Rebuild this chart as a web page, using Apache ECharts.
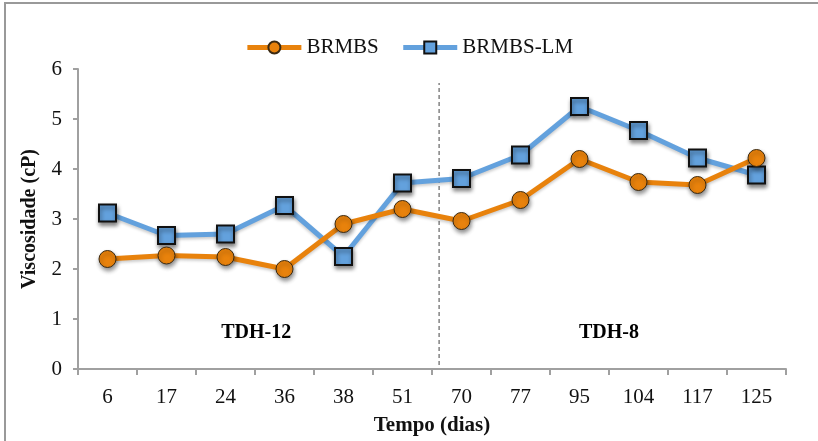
<!DOCTYPE html>
<html>
<head>
<meta charset="utf-8">
<script src="https://cdn.jsdelivr.net/npm/echarts@6/dist/echarts.min.js"></script>
<style>
html,body{margin:0;padding:0;background:#fff;overflow:hidden;}
#chart{width:818px;height:441px;}
</style>
</head>
<body>
<div id="chart"></div>
<script>
const categories = ['6','17','24','36','38','51','70','77','95','104','117','125'];
const brmbs   = [2.20, 2.27, 2.24, 2.00, 2.90, 3.20, 2.96, 3.38, 4.20, 3.74, 3.68, 4.22];
const brmbsLM = [3.12, 2.67, 2.70, 3.27, 2.25, 3.72, 3.81, 4.28, 5.25, 4.77, 4.22, 3.88];
const yTicks = [0, 6, 1];           // min, max, interval
const separatorX = 6.12;             // between "51" and "70" (category units)
const separatorY = [0.08, 5.72];
const regionLabels = [
  {name: 'TDH-12', value: [3.02, 0.73]},
  {name: 'TDH-8',  value: [9.0, 0.73]}
];

const serif = "'Liberation Serif','Times New Roman',serif";
const axisGray = '#A0A0A0';
const orange = '#E8820C';
const blue = '#63A1DD';

const chart = echarts.init(document.getElementById('chart'));
chart.setOption({
  animation: false,
  backgroundColor: '#fff',
  graphic: [{
    type: 'rect',
    shape: {x: 5, y: 3, width: 900, height: 600},
    style: {fill: 'none', stroke: '#999', lineWidth: 2},
    silent: true
  }],
  legend: {
    data: ['BRMBS', 'BRMBS-LM'],
    top: 32,
    left: 'center',
    itemWidth: 54,
    itemHeight: 15,
    itemGap: 22,
    lineStyle: {width: 5},
    textStyle: {fontFamily: serif, fontSize: 21, color: '#111'}
  },
  grid: {left: 78, right: 32, top: 69, bottom: 68},
  xAxis: [{
    type: 'category',
    data: categories,
    boundaryGap: true,
    name: 'Tempo (dias)',
    nameLocation: 'middle',
    nameGap: 46,
    nameTextStyle: {fontFamily: serif, fontSize: 21, fontWeight: 'bold', color: '#111'},
    axisLine: {lineStyle: {color: axisGray, width: 2}},
    axisTick: {show: true, length: 6, alignWithLabel: false, lineStyle: {color: axisGray, width: 2}},
    axisLabel: {fontFamily: serif, fontSize: 21, color: '#111', margin: 18, interval: 0}
  }, {
    type: 'value', min: 0, max: 12, show: false
  }],
  yAxis: {
    type: 'value',
    min: yTicks[0], max: yTicks[1], interval: yTicks[2],
    name: 'Viscosidade (cP)',
    nameLocation: 'middle',
    nameGap: 38,
    nameTextStyle: {fontFamily: serif, fontSize: 20, fontWeight: 'bold', color: '#111'},
    axisLine: {show: true, lineStyle: {color: axisGray, width: 2}},
    axisTick: {show: true, length: 5, lineStyle: {color: axisGray, width: 2}},
    axisLabel: {fontFamily: serif, fontSize: 21, color: '#111', margin: 16, padding: [5, 0, 0, 0]},
    splitLine: {show: false}
  },
  series: [{
    name: 'BRMBS',
    type: 'line',
    data: brmbs,
    symbol: 'circle',
    symbolSize: 17,
    lineStyle: {color: orange, width: 5, shadowBlur: 3, shadowColor: 'rgba(0,0,0,0.2)', shadowOffsetY: 2},
    itemStyle: {color: orange, borderColor: '#3b2a12', borderWidth: 1,
      shadowBlur: 4, shadowColor: 'rgba(0,0,0,0.45)', shadowOffsetX: 1, shadowOffsetY: 3},
    z: 3
  }, {
    name: 'BRMBS-LM',
    type: 'line',
    data: brmbsLM,
    symbol: 'rect',
    symbolSize: 17,
    lineStyle: {color: blue, width: 5, shadowBlur: 3, shadowColor: 'rgba(0,0,0,0.2)', shadowOffsetY: 2},
    itemStyle: {color: blue, borderColor: '#111', borderWidth: 2,
      shadowBlur: 4, shadowColor: 'rgba(0,0,0,0.45)', shadowOffsetX: 1, shadowOffsetY: 3},
    z: 2
  }, {
    name: 'separator',
    type: 'line',
    xAxisIndex: 1,
    data: [[separatorX, separatorY[0]], [separatorX, separatorY[1]]],
    symbol: 'none',
    silent: true,
    lineStyle: {color: '#444', width: 1, type: [4, 3]},
    z: 1
  }, {
    name: 'regions',
    type: 'scatter',
    xAxisIndex: 1,
    data: regionLabels,
    symbolSize: 0,
    silent: true,
    itemStyle: {opacity: 1},
    label: {show: true, position: 'inside', formatter: p => p.name, opacity: 1,
      fontFamily: serif, fontSize: 20, fontWeight: 'bold', color: '#000'}
  }]
});
</script>
</body>
</html>
